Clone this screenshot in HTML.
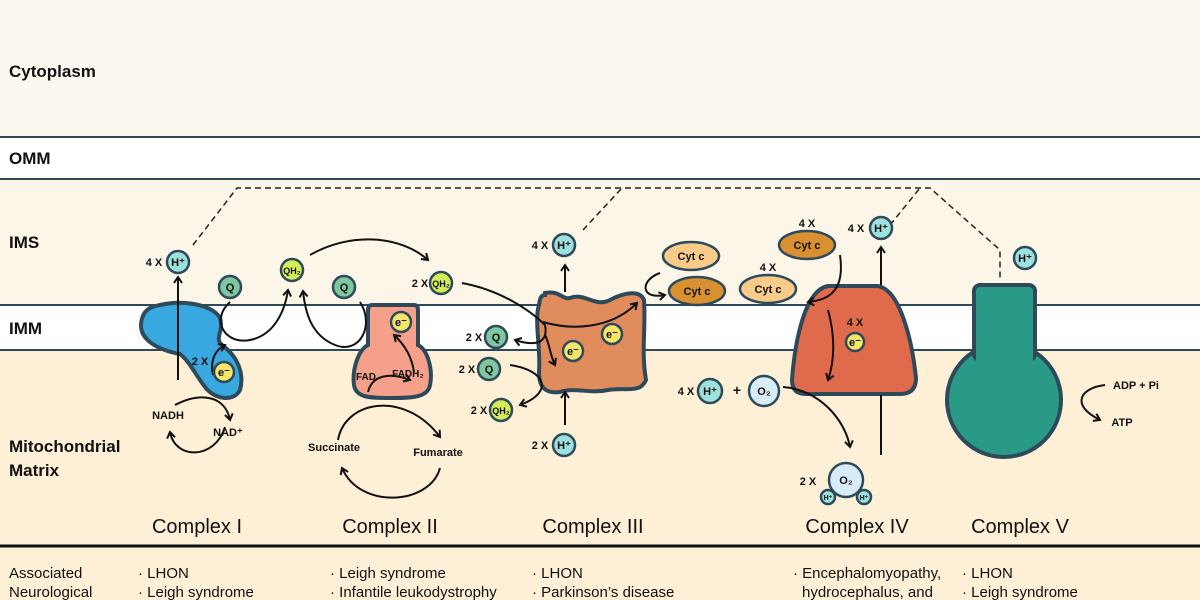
<!DOCTYPE html>
<html><head><meta charset="utf-8"><style>
html,body{margin:0;padding:0;width:1200px;height:600px;overflow:hidden;background:#fdf0d8}
svg{display:block}
text{font-family:"Liberation Sans",sans-serif}
.b{font-weight:bold;fill:#111}
.s{font-size:11px;font-weight:bold;fill:#111}
.c{font-size:20px;fill:#111}
.d{font-size:15px;fill:#111}
</style></head><body>
<svg width="1200" height="600" viewBox="0 0 1200 600" xmlns="http://www.w3.org/2000/svg">
<defs>
<marker id="a" markerWidth="10" markerHeight="10" refX="7" refY="5" orient="auto" markerUnits="userSpaceOnUse"><path d="M1,1 L7,5 L1,9" fill="none" stroke="#111" stroke-width="2"/></marker>
</defs>
<rect x="0" y="0" width="1200" height="137" fill="#fcf8ef"/>
<rect x="0" y="137" width="1200" height="42" fill="#fff"/>
<rect x="0" y="179" width="1200" height="126" fill="#fcf6e9"/>
<rect x="0" y="305" width="1200" height="45" fill="#fff"/>
<rect x="0" y="350" width="1200" height="250" fill="#fdf0d6"/>
<g stroke="#2e4a5a" stroke-width="2"><line x1="0" y1="137" x2="1200" y2="137"/><line x1="0" y1="179" x2="1200" y2="179"/><line x1="0" y1="305" x2="1200" y2="305"/><line x1="0" y1="350" x2="1200" y2="350"/></g>
<line x1="0" y1="546" x2="1200" y2="546" stroke="#111" stroke-width="3"/>
<text x="9" y="77" class="b" font-size="17">Cytoplasm</text>
<text x="9" y="164" class="b" font-size="17">OMM</text>
<text x="9" y="248" class="b" font-size="17">IMS</text>
<text x="9" y="334" class="b" font-size="17">IMM</text>
<text x="9" y="452" class="b" font-size="17">Mitochondrial</text>
<text x="9" y="476" class="b" font-size="17">Matrix</text>
<path d="M193,245 L237,188 L930,188 L1000,250 L1000,278" fill="none" stroke="#222" stroke-width="1.5" stroke-dasharray="6,4"/>
<path d="M583,230 L622,188" fill="none" stroke="#222" stroke-width="1.5" stroke-dasharray="6,4"/>
<path d="M890,225 L920,188" fill="none" stroke="#222" stroke-width="1.5" stroke-dasharray="6,4"/>
<path d="M150,308 C175,298 212,303 220,318 C224,332 214,338 222,345 C236,355 245,372 240,390 C234,402 215,400 205,387 C195,374 190,362 180,354 C158,350 140,340 141,324 C142,315 145,311 150,308 Z" fill="#3aa8e0" stroke="#2e4a5a" stroke-width="4"/>
<path d="M372,305 L414,305 Q418,305 418,310 L418,345 C428,350 433,370 430,385 C428,398 410,398 392,398 C370,398 356,398 354,385 C352,370 358,350 368,345 L368,310 Q368,305 372,305 Z" fill="#f5a08a" stroke="#2e4a5a" stroke-width="4"/>
<path d="M545,293 C560,290 562,300 570,298 C585,292 595,308 610,300 C625,292 640,290 644,300 C646,330 641,350 646,380 C640,394 625,387 608,390 C590,394 575,387 560,392 C545,394 539,387 539,372 C541,350 534,320 539,305 C540,298 541,295 545,295 Z" fill="#e08c5c" stroke="#2e4a5a" stroke-width="4"/>
<path d="M792,380 C795,340 805,290 828,286 L878,286 C900,290 912,340 916,378 Q916,394 900,394 L806,394 Q792,394 792,380 Z" fill="#e06a4c" stroke="#2e4a5a" stroke-width="4"/>
<circle cx="1004" cy="400" r="57" fill="#2a9a88" stroke="#2e4a5a" stroke-width="4"/>
<rect x="974" y="285" width="61" height="75" rx="6" fill="#2a9a88" stroke="#2e4a5a" stroke-width="4"/>
<rect x="976" y="340" width="57" height="30" fill="#2a9a88"/>
<g fill="none" stroke="#111" stroke-width="2">
<line x1="178" y1="380" x2="178" y2="277" marker-end="url(#a)"/>
<path d="M213,375 C210,360 215,350 225,345" marker-end="url(#a)"/>
<path d="M175,405 C200,392 225,395 230,420" marker-end="url(#a)"/>
<path d="M225,427 C215,460 175,460 170,432" marker-end="url(#a)"/>
<path d="M230,302 C210,320 225,345 250,340 C275,335 285,310 288,290" marker-end="url(#a)"/>
<path d="M360,302 C375,325 360,355 335,345 C310,335 305,310 303,291" marker-end="url(#a)"/>
<path d="M310,255 C350,232 400,235 428,260" marker-end="url(#a)"/>
<path d="M368,392 C372,375 390,372 410,380" marker-end="url(#a)"/>
<path d="M414,372 C412,358 405,345 394,335" marker-end="url(#a)"/>
<path d="M338,440 C345,400 405,390 440,437" marker-end="url(#a)"/>
<path d="M440,468 C430,505 360,510 342,468" marker-end="url(#a)"/>
<path d="M462,283 C500,290 530,310 545,325 C548,340 540,348 515,340" marker-end="url(#a)"/>
<path d="M510,365 C545,370 555,392 520,405" marker-end="url(#a)"/>
<path d="M543,322 C570,330 610,330 637,303" marker-end="url(#a)"/>
<path d="M545,335 C550,345 550,355 555,365" marker-end="url(#a)"/>
<line x1="565" y1="425" x2="565" y2="392" marker-end="url(#a)"/>
<line x1="565" y1="292" x2="565" y2="265" marker-end="url(#a)"/>
<path d="M660,273 C640,280 640,300 665,295" marker-end="url(#a)"/>
<path d="M840,255 C845,290 830,300 808,302" marker-end="url(#a)"/>
<path d="M828,310 C835,335 835,360 828,380" marker-end="url(#a)"/>
<line x1="881" y1="285" x2="881" y2="247" marker-end="url(#a)"/>
<line x1="881" y1="455" x2="881" y2="395" />
<path d="M783,387 C820,390 845,420 850,447" marker-end="url(#a)"/>
<path d="M1105,385 C1080,388 1070,405 1100,420" marker-end="url(#a)"/>
</g>
<g stroke="#2e4a5a" stroke-width="2.5">
<circle cx="178" cy="262" r="11" fill="#9de0dc"/>
<circle cx="230" cy="287" r="11" fill="#7fc7a0"/>
<circle cx="292" cy="270" r="11" fill="#d4ec5a"/>
<circle cx="344" cy="287" r="11" fill="#7fc7a0"/>
<circle cx="441" cy="283" r="11" fill="#d4ec5a"/>
<circle cx="224" cy="372" r="10" fill="#f5e66a"/>
<circle cx="401" cy="322" r="10" fill="#f5e66a"/>
<circle cx="496" cy="337" r="11" fill="#7fc7a0"/>
<circle cx="489" cy="369" r="11" fill="#7fc7a0"/>
<circle cx="501" cy="410" r="11" fill="#d4ec5a"/>
<circle cx="564" cy="245" r="11" fill="#9de0dc"/>
<circle cx="564" cy="445" r="11" fill="#9de0dc"/>
<circle cx="612" cy="334" r="10" fill="#f5e66a"/>
<circle cx="573" cy="351" r="10" fill="#f5e66a"/>
<circle cx="855" cy="342" r="9" fill="#f5e66a"/>
<circle cx="881" cy="228" r="11" fill="#9de0dc"/>
<circle cx="1025" cy="258" r="11" fill="#9de0dc"/>
<circle cx="710" cy="391" r="12" fill="#9de0dc"/>
<circle cx="764" cy="391" r="15" fill="#d8ecf8"/>
<circle cx="846" cy="480" r="17" fill="#d8ecf8"/>
<circle cx="828" cy="497" r="7" fill="#9de0dc"/>
<circle cx="864" cy="497" r="7" fill="#9de0dc"/>
<ellipse cx="691" cy="256" rx="28" ry="14" fill="#f8cc88"/>
<ellipse cx="697" cy="291" rx="28" ry="14" fill="#d99030"/>
<ellipse cx="807" cy="245" rx="28" ry="14" fill="#d99030"/>
<ellipse cx="768" cy="289" rx="28" ry="14" fill="#f8cc88"/>
</g>
<g class="s" text-anchor="middle">
<text x="178" y="266">H⁺</text><text x="230" y="291">Q</text><text x="292" y="274" font-size="9">QH₂</text>
<text x="344" y="291">Q</text><text x="441" y="287" font-size="9">QH₂</text><text x="224" y="376">e⁻</text>
<text x="401" y="326">e⁻</text><text x="496" y="341">Q</text><text x="489" y="373">Q</text>
<text x="501" y="414" font-size="9">QH₂</text><text x="564" y="249">H⁺</text><text x="564" y="449">H⁺</text>
<text x="612" y="338">e⁻</text><text x="573" y="355">e⁻</text><text x="855" y="346">e⁻</text>
<text x="881" y="232">H⁺</text><text x="1025" y="262">H⁺</text><text x="710" y="395">H⁺</text>
<text x="764" y="395">O₂</text><text x="846" y="484">O₂</text>
<text x="828" y="500" font-size="7">H⁺</text><text x="864" y="500" font-size="7">H⁺</text>
<text x="691" y="260">Cyt c</text><text x="697" y="295">Cyt c</text><text x="807" y="249">Cyt c</text><text x="768" y="293">Cyt c</text>
<text x="154" y="266">4 X</text><text x="420" y="287">2 X</text><text x="474" y="341">2 X</text><text x="467" y="373">2 X</text>
<text x="479" y="414">2 X</text><text x="540" y="249">4 X</text><text x="540" y="449">2 X</text>
<text x="856" y="232">4 X</text><text x="807" y="227">4 X</text><text x="768" y="271">4 X</text>
<text x="855" y="326">4 X</text><text x="686" y="395">4 X</text><text x="737" y="395" font-size="14">+</text>
<text x="808" y="485">2 X</text><text x="200" y="365">2 X</text>
<text x="168" y="419">NADH</text><text x="228" y="436">NAD⁺</text>
<text x="408" y="377" font-size="10">FADH₂</text>
<text x="366" y="380" font-size="10">FAD</text>
<text x="334" y="451">Succinate</text><text x="438" y="456">Fumarate</text>
<text x="1136" y="389">ADP + Pi</text><text x="1122" y="426">ATP</text>
</g>
<g class="c" text-anchor="middle">
<text x="197" y="533">Complex I</text><text x="390" y="533">Complex II</text><text x="593" y="533">Complex III</text>
<text x="857" y="533">Complex IV</text><text x="1020" y="533">Complex V</text>
</g>
<g class="d">
<text x="9" y="578">Associated</text><text x="9" y="597">Neurological</text>
<text x="138" y="578">· LHON</text><text x="138" y="597">· Leigh syndrome</text>
<text x="330" y="578">· Leigh syndrome</text><text x="330" y="597">· Infantile leukodystrophy</text>
<text x="532" y="578">· LHON</text><text x="532" y="597">· Parkinson’s disease</text>
<text x="793" y="578">· Encephalomyopathy,</text><text x="802" y="597">hydrocephalus, and</text>
<text x="962" y="578">· LHON</text><text x="962" y="597">· Leigh syndrome</text>
</g>
</svg>
</body></html>
